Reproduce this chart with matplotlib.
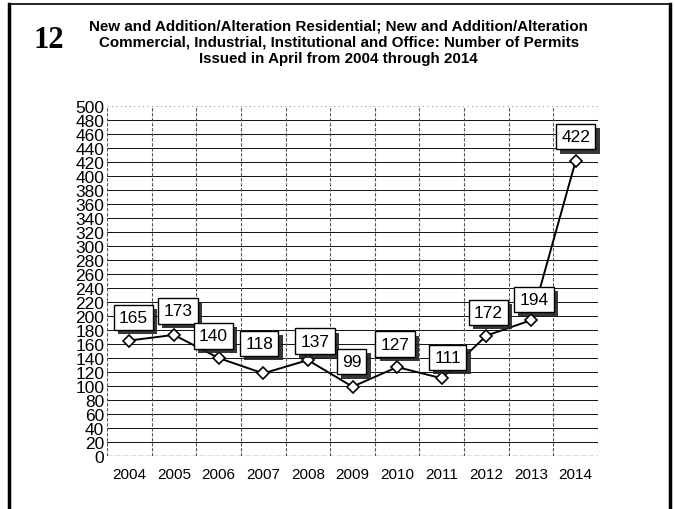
import numpy as np
import matplotlib.pyplot as plt
import matplotlib.patheffects as pe
from matplotlib.lines import Line2D

# permits issued in April, by year
years = ['2004', '2005', '2006', '2007', '2008', '2009', '2010', '2011', '2012', '2013', '2014']
permits = [165, 173, 140, 118, 137, 99, 127, 111, 172, 194, 422]

# label box offsets from point (pixels)
label_dx = [4, 4, -5, -4, 7, -1, -2, 6, 2, 3, 0]
label_dy = [23, 24, 22, 30, 19, 25, 23, 21, 23, 21, 24]

plt.rcParams['font.family'] = 'Liberation Sans'

fig = plt.figure(figsize=(6.75, 5.1), dpi=100)
ax = fig.add_axes([0.1585, 0.104, 0.7275, 0.686])

x = np.arange(len(years))
ax.set_xlim(-0.5, len(years) - 0.5)
ax.set_ylim(0, 500)

# horizontal grid
for v in range(20, 500, 20):
    ax.axhline(v, color='#111111', lw=0.7, zorder=1)
ax.axhline(500, color='#999999', lw=0.8, ls=(0, (1, 3)), zorder=1)
ax.axhline(0, color='#666666', lw=1.0, ls=(0, (4, 1.5)), zorder=1)
# vertical grid at category boundaries
for b in np.arange(-0.5, len(years), 1.0):
    ax.axvline(b, color='#555555', lw=0.8, ls=(0, (3, 1.5)), zorder=1)

for s in ax.spines.values():
    s.set_visible(False)

ax.plot(x, permits, color='black', lw=1.4, marker='D', markersize=6,
        markerfacecolor='white', markeredgecolor='black', markeredgewidth=1.2, zorder=3)

for xi, v, dx, dy in zip(x, permits, label_dx, label_dy):
    t = ax.annotate(str(v), (xi, v), xytext=(dx * 0.72, dy * 0.72), textcoords='offset points',
                    ha='center', va='center', fontsize=12.5, zorder=5,
                    bbox=dict(boxstyle='square,pad=0.3', fc='white', ec='black', lw=1.0))
    t.get_bbox_patch().set_path_effects([pe.SimplePatchShadow(offset=(3, -3), shadow_rgbFace='#222222', alpha=0.9), pe.Normal()])

ax.set_yticks(range(0, 501, 20))
ax.set_yticklabels([str(v) for v in range(0, 501, 20)], fontsize=12.5)
ax.set_xticks(x)
ax.set_xticklabels(years, fontsize=11)
ax.tick_params(axis='both', length=0)
ax.tick_params(axis='y', pad=2)
ax.tick_params(axis='x', pad=8)

# title
fig.text(0.502, 0.962, 'New and Addition/Alteration Residential; New and Addition/Alteration\n'
         'Commercial, Industrial, Institutional and Office: Number of Permits\n'
         'Issued in April from 2004 through 2014',
         ha='center', va='top', fontsize=10.9, fontweight='bold', linespacing=1.2)
fig.text(0.072, 0.92, '12', ha='center', va='center', fontsize=22, fontweight='bold',
         family='Liberation Serif')

# page frame
fig.add_artist(Line2D([0.013, 0.013], [0.0, 0.99], color='black', lw=2.5, transform=fig.transFigure))
fig.add_artist(Line2D([0.992, 0.992], [0.0, 0.99], color='black', lw=2.5, transform=fig.transFigure))
fig.add_artist(Line2D([0.013, 0.992], [0.99, 0.99], color='black', lw=1.2, transform=fig.transFigure))

fig.savefig('out.png', dpi=100)
